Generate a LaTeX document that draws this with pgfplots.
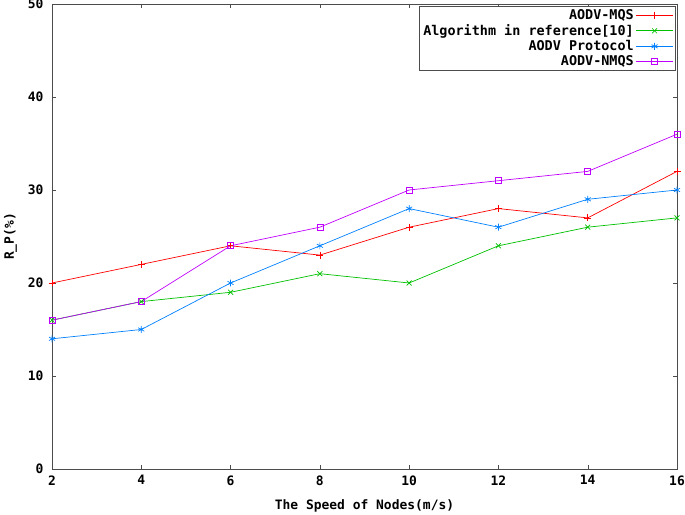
\documentclass[border=0pt]{standalone}
\usepackage{pgfplots}
\pgfplotsset{compat=1.18}
\usepackage{fontspec}
\setmainfont{DejaVu Sans Mono}
\definecolor{gred}{RGB}{255,0,0}
\definecolor{ggreen}{RGB}{0,192,0}
\definecolor{gblue}{RGB}{0,128,255}
\definecolor{gmag}{RGB}{192,0,255}
\begin{document}
\begin{tikzpicture}[x=1bp,y=1bp]
\path[use as bounding box] (-52,-46) rectangle (633,469);
\begin{axis}[
  at={(0,0)}, anchor=south west,
  width=625bp, height=465bp, scale only axis,
  xmin=2, xmax=16, ymin=0, ymax=50,
  xtick={2,4,...,16}, ytick={0,10,...,50},
  tick align=inside, major tick length=4bp,
  axis line style={draw=black!70, line width=0.6pt},
  every tick/.style={black!70},
  font=\bfseries\fontsize{13}{14}\selectfont,
  /pgf/number format/assume math mode=true,
  xlabel={The Speed of Nodes(m/s)},
  ylabel={R\_P(\%)},
  xticklabel style={yshift=-3bp},
  yticklabel style={xshift=-5bp},
  xlabel style={yshift=-8bp},
  ylabel style={yshift=4bp},
  legend style={at={(rel axis cs:0.997,0.996)}, anchor=north east, draw=black!70, line width=0.6pt, font=\bfseries\fontsize{13.5}{14}\selectfont, cells={anchor=east}, row sep=-0.5bp, inner sep=1.5bp},
  legend plot pos=right,
  legend cell align=right,
  legend image code/.code={%
    \begin{scope}[#1]\draw[draw=., mark=none] (0cm,0cm) -- (1.3cm,0cm);\end{scope}%
    \path[#1] plot coordinates {(0.65cm,0cm)};},
]
\addplot[color=gred, line width=0.7pt, mark=+, mark size=3.5pt] coordinates {(2,20)(4,22)(6,24)(8,23)(10,26)(12,28)(14,27)(16,32)};
\addlegendentry{AODV-MQS}
\addplot[color=ggreen, line width=0.7pt, mark=x, mark size=3.5pt] coordinates {(2,16)(4,18)(6,19)(8,21)(10,20)(12,24)(14,26)(16,27)};
\addlegendentry{Algorithm in reference[10]}
\addplot[color=gblue, line width=0.7pt, mark=asterisk, mark size=3.5pt] coordinates {(2,14)(4,15)(6,20)(8,24)(10,28)(12,26)(14,29)(16,30)};
\addlegendentry{AODV Protocol}
\addplot[color=gmag, line width=0.7pt, mark=square, mark size=3pt] coordinates {(2,16)(4,18)(6,24)(8,26)(10,30)(12,31)(14,32)(16,36)};
\addlegendentry{AODV-NMQS}
\end{axis}
\end{tikzpicture}
\end{document}
